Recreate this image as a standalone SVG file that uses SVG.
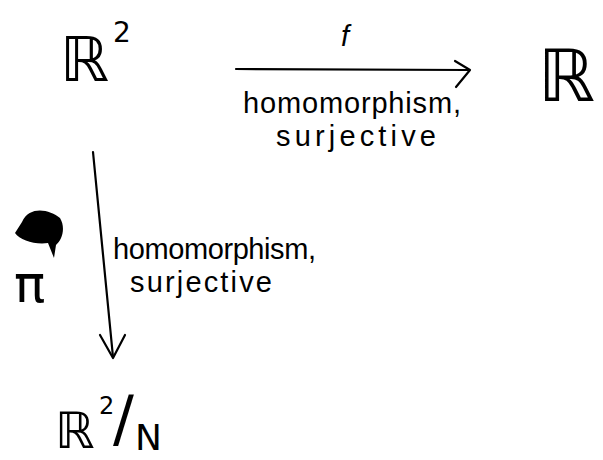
<svg xmlns="http://www.w3.org/2000/svg" width="603" height="460" viewBox="0 0 603 460">
<defs>
<style>
.sp{font-family:"DejaVu Sans","Liberation Sans",sans-serif;fill:#000}
.lb{font-family:"Liberation Sans","DejaVu Sans",sans-serif;fill:#000;font-size:29px}
.ln{stroke:#000;stroke-width:2.2;fill:none;stroke-linecap:round;stroke-linejoin:round}
</style>
</defs>
<rect width="603" height="460" fill="#fff"/>
<g id="R2">
<text class="sp" x="60" y="81" font-size="62">ℝ</text>
<text class="sp" x="113" y="42" font-size="28">2</text>
</g>
<g id="R">
<text class="sp" x="538" y="101" font-size="72">ℝ</text>
</g>
<g id="R2N">
<text class="sp" x="55" y="448" font-size="50">ℝ</text>
<text class="sp" x="99" y="414" font-size="24">2</text>
<text class="sp" x="113" y="440" font-size="62">/</text>
<text class="sp" x="135" y="450" font-size="36">N</text>
</g>
<g id="connectors">
<g id="f-arrow">
<path class="ln" d="M236 69 L468 70"/>
<path class="ln" d="M455 61 L470 70 L456 87"/>
<text class="lb" x="345" y="46" font-size="38" text-anchor="middle" font-style="italic">f</text>
<text class="lb" x="243" y="113" textLength="218" lengthAdjust="spacing">homomorphism,</text>
<text class="lb" x="276" y="146" textLength="160" lengthAdjust="spacing">surjective</text>
</g>
<g id="pi-arrow">
<path class="ln" d="M93 152 L113 357"/>
<path class="ln" d="M100 335 L113 358 L125 335"/>
<path d="M22 222 C30 205 50 210 60 218 C66 228 62 240 56 245 L54 258 L48 243 C35 245 20 240 15 233 Z" fill="#000"/>
<text class="sp" x="14" y="302" font-size="52">π</text>
<text class="lb" x="113" y="259" textLength="203" lengthAdjust="spacing">homomorphism,</text>
<text class="lb" x="130" y="292" textLength="142" lengthAdjust="spacing">surjective</text>
</g>
</g>
</svg>
